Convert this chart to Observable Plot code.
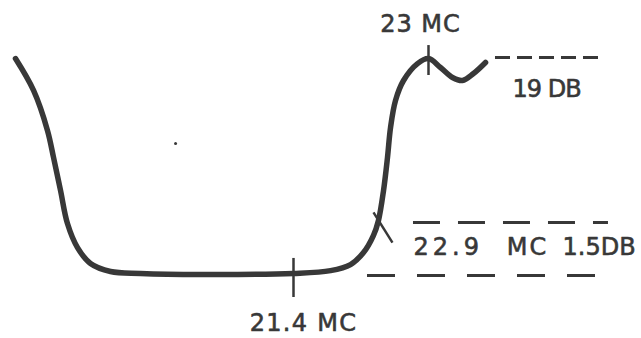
<!DOCTYPE html>
<html>
<head>
<meta charset="utf-8">
<script src="https://cdn.jsdelivr.net/npm/d3@7"></script>
<script src="https://cdn.jsdelivr.net/npm/@observablehq/plot@0.6"></script>
<style>
  html, body { margin: 0; padding: 0; background: #ffffff; }
  svg { display: block; overflow: visible; }
</style>
</head>
<body>
<div id="chart"></div>
<script>
// Response curve (frequency in MC, relative level; 0 = passband floor, 100 = 19 dB level)
const curveFreq  = [18.105, 18.319, 18.484, 18.556, 18.639, 18.721, 18.840, 18.994, 19.231, 19.587, 20.298, 21.4, 21.839, 22.076, 22.230, 22.348, 22.407, 22.467, 22.514, 22.550, 22.609, 22.704, 22.870, 23.0, 23.142, 23.284, 23.403, 23.533, 23.676];
const curveLevel = [99.5, 84.8, 66.4, 53.9, 38.7, 23.5, 12.4, 5.1, 1.4, 0.5, 0, 0.5, 1.8, 4.6, 10.1, 18.0, 24.9, 38.7, 53.9, 67.7, 80.2, 89.4, 97.2, 99.5, 95.4, 90.8, 89.4, 92.6, 97.7];

// Reference (dashed) levels
const refNames  = ["19 DB", "1.5 DB top", "1.5 DB bottom"];
const refLevel  = [100, 24, -0.5];
const refStart  = [23.794, 22.822, 22.277];
const refEnd    = [25.039, 25.133, 25.181];

// Frequency tick marks
const tickFreq  = [21.4, 23.0];
const tickLow   = [-10.6, 91.7];
const tickHigh  = [7.4, 105.5];

// 22.9 MC crossing mark
const crossX1 = [22.348], crossY1 = [28.6], crossX2 = [22.573], crossY2 = [14.7];

// Labels
const labelText  = ["23 MC", "19 DB", "21.4 MC", "22.9", "MC", "1.5DB"];
const labelFreq  = [22.905, 24.399, 21.519, 22.822, 24.173, 24.588];
const labelLevel = [115.2, 85.3, -22.6, 12.4, 12.4, 12.4];
const labelAnchor = ["middle", "middle", "middle", "start", "middle", "start"];

// Stray dot
const dotFreq = [20.002], dotLevel = [60.4];

// styling (not data)
const dashStyle = {"19 DB": "15,7", "1.5 DB top": "27,18", "1.5 DB bottom": "28,22"};
const spacing = {"23 MC": 1, "19 DB": -1, "21.4 MC": 1.3, "22.9": 4, "MC": 2, "1.5DB": 0};

const curve = curveFreq.map((f, i) => ({f, v: curveLevel[i]}));
const refs = refNames.map((n, i) => ({n, v: refLevel[i], a: refStart[i], b: refEnd[i]}));
const ticks = tickFreq.map((f, i) => ({f, lo: tickLow[i], hi: tickHigh[i]}));
const cross = crossX1.map((x, i) => ({x1: x, y1: crossY1[i], x2: crossX2[i], y2: crossY2[i]}));
const labels = labelText.map((t, i) => ({t, f: labelFreq[i], v: labelLevel[i], anchor: labelAnchor[i]}));
const dots = dotFreq.map((f, i) => ({f, v: dotLevel[i]}));

const ink = "#383838";
const textOpts = {x: "f", y: "v", text: "t", lineAnchor: "middle", fontSize: 24, fontFamily: "DejaVu Sans", fill: ink, stroke: ink, strokeWidth: 0.6};

const chart = Plot.plot({
  width: 641,
  height: 338,
  marginLeft: 293,
  marginRight: 213,
  marginTop: 57,
  marginBottom: 64,
  x: {domain: [21.4, 23.0], axis: null},
  y: {domain: [0, 100], axis: null},
  style: {background: "#ffffff", overflow: "visible"},
  marks: [
    ...refs.map(r => Plot.ruleY([r], {y: "v", x1: "a", x2: "b", stroke: ink, strokeWidth: 3, strokeDasharray: dashStyle[r.n]})),
    Plot.line(curve, {x: "f", y: "v", curve: "catmull-rom", stroke: ink, strokeWidth: 5.5, strokeLinecap: "round", strokeLinejoin: "round"}),
    Plot.ruleX(ticks, {x: "f", y1: "lo", y2: "hi", stroke: ink, strokeWidth: 2.5}),
    Plot.link(cross, {x1: "x1", y1: "y1", x2: "x2", y2: "y2", stroke: ink, strokeWidth: 2.5}),
    Plot.dot(dots, {x: "f", y: "v", r: 1.5, fill: ink, stroke: null}),
    Plot.text(labels.filter(d => d.anchor === "middle"), {...textOpts, textAnchor: "middle"}),
    Plot.text(labels.filter(d => d.anchor === "start"), {...textOpts, textAnchor: "start"})
  ]
});
chart.querySelectorAll("text").forEach(el => {
  const s = spacing[el.textContent];
  if (s !== undefined) el.setAttribute("letter-spacing", s + "px");
});
document.getElementById("chart").appendChild(chart);
</script>
</body>
</html>
